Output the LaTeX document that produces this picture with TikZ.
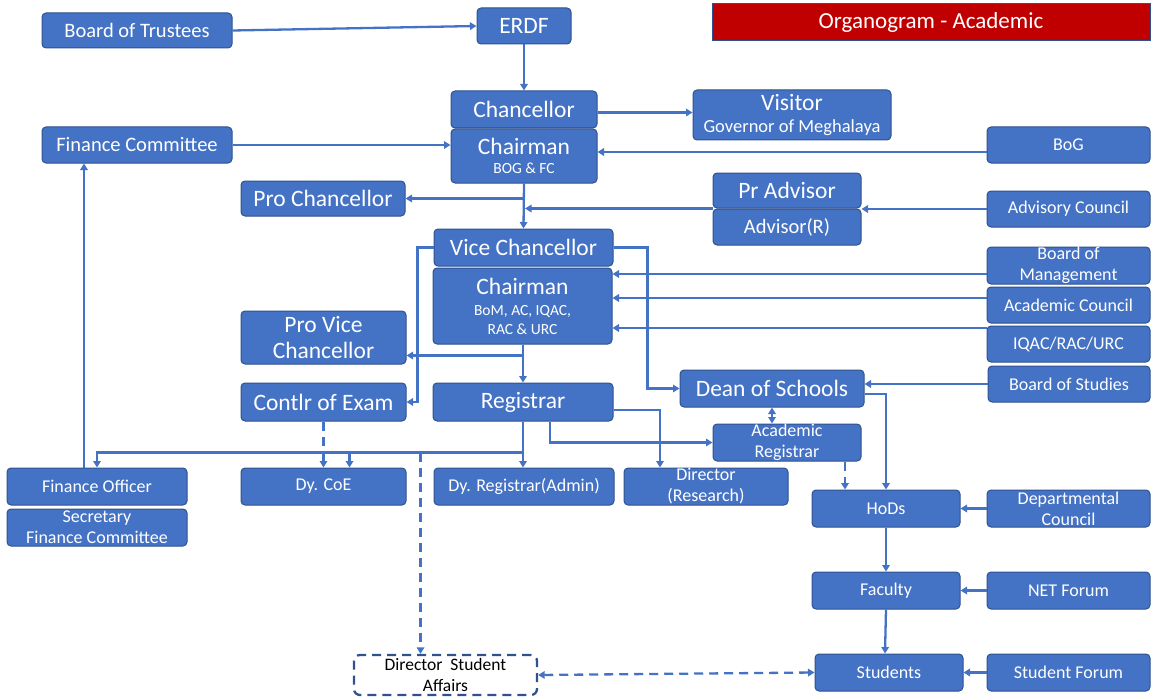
\documentclass[tikz,border=0pt]{standalone}
\usepackage{fontspec}
\setmainfont{Carlito}
\usetikzlibrary{arrows.meta,calc}
\definecolor{boxc}{HTML}{4472C4}
\definecolor{bordc}{HTML}{2F528F}
\definecolor{linec}{HTML}{4472C4}
\definecolor{titlec}{HTML}{C00000}
\tikzset{
  bx/.style={draw=bordc, line width=1pt, fill=boxc, rounded corners=4pt, text=white,
    inner sep=0pt, align=center, font=\fontsize{18}{19}\selectfont},
  big/.style={font=\fontsize{23.5}{25}\selectfont},
  mid/.style={font=\fontsize{20.5}{22}\selectfont},
  two/.style={font=\fontsize{18}{21}\selectfont},
  sz/.style 2 args={minimum width=#1pt, minimum height=#2pt},
  arr/.style={draw=linec, line width=2.3pt, -{Triangle[width=7.5pt,length=6.5pt]}},
  darr/.style={draw=linec, line width=2.3pt, {Triangle[width=7.5pt,length=6.5pt]}-{Triangle[width=7.5pt,length=6.5pt]}},
  dsh/.style={dash pattern=on 9pt off 6pt},
}
\begin{document}
\begin{tikzpicture}[x=1pt,y=-1pt]
\useasboundingbox (0,0) rectangle (1151,698);
% nodes
\node[bx,mid,sz={190}{35}] (bot) at (137,30.5) {Board of Trustees};
\node[bx,big,sz={94}{36}] (erdf) at (524,26) {ERDF};
\node[draw=bordc, line width=1pt, fill=titlec, text=white, inner sep=0pt, font=\fontsize{23}{25}\selectfont, minimum width=438pt, minimum height=37pt] (title) at (931,22.5) {\raisebox{-2pt}{Organogram - Academic}};
\node[bx,big,sz={146}{37}] (chan) at (524,109.5) {Chancellor};
\node[bx,sz={146}{54}] (chair1) at (524,156) {{\fontsize{23.5}{25}\selectfont Chairman}\\[0pt]{\fontsize{15.5}{17}\selectfont BOG \& FC}};
\node[bx,sz={198}{50}] (visitor) at (792,115) {{\fontsize{23.5}{24}\selectfont Visitor}\\[3pt]{\fontsize{18.5}{20}\selectfont Governor of Meghalaya}};
\node[bx,mid,sz={190}{36}] (fc) at (137,145) {Finance Committee};
\node[bx,sz={163}{36}] (bog) at (1068.5,145) {BoG};
\node[bx,big,sz={164}{35}] (proch) at (323,198.5) {Pro Chancellor};
\node[bx,big,sz={148}{35}] (pradv) at (787,190.5) {Pr Advisor};
\node[bx,mid,sz={148}{36}] (advr) at (787,227) {Advisor(R)};
\node[bx,sz={163}{36}] (advc) at (1068.5,209) {Advisory Council};
\node[bx,big,sz={179}{37}] (vc) at (523.5,247.5) {Vice Chancellor};
\node[bx,sz={179}{76}] (chair2) at (522.5,306) {{\fontsize{23.5}{24}\selectfont Chairman}\\[2pt]{\fontsize{15.5}{18}\selectfont BoM, AC, IQAC,}\\{\fontsize{15.5}{18}\selectfont RAC \& URC}};
\node[bx,two,sz={163}{37}] (bom) at (1068.5,265.5) {Board of\\Management};
\node[bx,sz={163}{36}] (ac) at (1068.5,305) {Academic Council};
\node[bx,sz={163}{36}] (iqac) at (1068.5,344) {IQAC/RAC/URC};
\node[bx,sz={162}{36}] (bos) at (1069,384) {Board of Studies};
\node[bx,font=\fontsize{23.5}{26}\selectfont,sz={165}{53}] (pvc) at (323.5,337.5) {Pro Vice\\Chancellor};
\node[bx,big,sz={165}{38}] (coe) at (323.5,402) {Contlr of Exam};
\node[bx,big,sz={180}{38}] (reg) at (523,402) {\raisebox{-2pt}{Registrar}};
\node[bx,big,sz={184}{37}] (dean) at (772,388.5) {Dean of Schools};
\node[bx,two,sz={148}{37}] (acreg) at (787,442.5) {Academic\\Registrar};
\node[bx,sz={180}{37}] (fo) at (97,486.5) {Finance Officer};
\node[bx,two,sz={180}{37}] (sec) at (97,527.5) {Secretary\\Finance Committee};
\node[bx,sz={165}{37}] (dycoe) at (323.5,486.5) {Dy. CoE};
\node[bx,sz={180}{37}] (dyreg) at (524,486.5) {Dy. Registrar(Admin)};
\node[bx,two,sz={164}{37}] (dirres) at (706,486.5) {Director\\(Research)};
\node[bx,sz={148}{37}] (hods) at (886,508.5) {HoDs};
\node[bx,two,sz={163}{37}] (dc) at (1068.5,508.5) {Departmental\\Council};
\node[bx,sz={148}{37}] (fac) at (886,590.5) {Faculty};
\node[bx,sz={163}{37}] (net) at (1068.5,590.5) {NET Forum};
\node[bx,sz={148}{37}] (stu) at (889,672.5) {Students};
\node[bx,sz={163}{37}] (sf) at (1068.5,672.5) {Student Forum};
\node[draw=bordc, line width=2.3pt, dsh, fill=white, rounded corners=6pt, text=black, inner sep=0pt, align=center, font=\fontsize{17.5}{21}\selectfont, minimum width=183pt, minimum height=40pt] (dsa) at (445.5,675) {Director\ \ Student\\Affairs};
% helper coordinates
\coordinate (c1) at ($(chan.east)+(0,3)$);
\coordinate (b1) at ($(bog.west)+(0,7)$);
\coordinate (j1) at ($(chair2.south)+(0,11)$);
\coordinate (m1) at ($(bom.west)+(0,8.5)$);
\coordinate (m2) at ($(ac.west)+(0,-7)$);
\coordinate (m3) at ($(iqac.west)+(0,-16)$);
\coordinate (d1) at ($(dean.east)+(0,5.5)$);
\coordinate (r1) at ($(reg.east)+(0,8)$);
\coordinate (r2) at ($(reg.south)+(27,0)$);
\coordinate (rr) at ($(dirres.north)+(-46,0)$);
\coordinate (bus) at ($(reg.south)+(0,31)$);
\coordinate (k) at ($(dycoe.north)+(26,0)$);
\coordinate (q) at ($(dsa.north)+(-25,0)$);
\coordinate (f1) at ($(fo.north)+(-13,0)$);
\coordinate (a1) at ($(acreg.south)+(58,0)$);
\coordinate (s1) at ($(stu.north)+(-4,0)$);
% connectors
\draw[arr] (bot.east) -- (erdf.west);
\draw[arr] (erdf.south) -- (chan.north);
\draw[arr] (c1) -- (c1 -| visitor.west);
\draw[arr] (fc.east) -- (fc.east -| chair1.west);
\draw[arr] (b1) -- (b1 -| chair1.east);
\draw[arr] (chair1.south) -- (vc.north);
\draw[arr] (chair1.south |- proch.east) -- (proch.east);
\draw[arr, shorten >=1pt] (pradv.south west) -- (pradv.south west -| chair1.south);
\draw[arr] (advc.west) -- (advc.west -| pradv.east);
\draw[arr] (vc.west) -- ++(-16,0) |- (coe.east);
\draw[arr] (reg.north |- chair2.south) -- (reg.north);
\draw[arr] (j1) -- (j1 -| pvc.east);
\draw[arr] (vc.east) -- ++(34,0) |- (dean.west);
\draw[arr] (m1) -- (m1 -| chair2.east);
\draw[arr] (m2) -- (m2 -| chair2.east);
\draw[arr] (m3) -- (m3 -| chair2.east);
\draw[arr] (bos.west) -- (bos.west -| dean.east);
\draw[arr] (d1) -| (hods.north);
\draw[darr] (dean.south) -- (dean.south |- acreg.north);
\draw[arr] (r1) -| (rr);
\draw[arr] (r2) |- (acreg.west);
\draw[arr] (reg.south) -- (reg.south |- dyreg.north);
\draw[arr] (bus) -| (fo.north);
\draw[arr] (k |- bus) -- (k);
\draw[arr, dsh] (coe.south) -- (dycoe.north);
\draw[arr, dsh] (q |- bus) -- (q);
\draw[arr] (f1) -- (f1 |- fc.south);
\draw[arr, dsh] (a1) -- (a1 |- hods.north);
\draw[arr] (hods.south) -- (fac.north);
\draw[arr] (fac.south) -- (s1);
\draw[arr] (dc.west) -- (hods.east);
\draw[arr] (net.west) -- (fac.east);
\draw[arr] (sf.west) -- (stu.east);
\draw[darr, dsh] (dsa.east) -- (stu.west);
\end{tikzpicture}
\end{document}
